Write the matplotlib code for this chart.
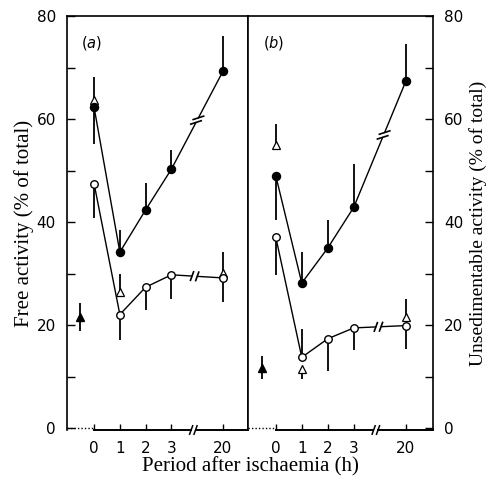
import numpy as np
import matplotlib
matplotlib.use('Agg')
import matplotlib.pyplot as plt

# Datos (horas tras la isquemia)
hours = [0, 1, 2, 3, 20]
tick_labels = ['0', '1', '2', '3', '20']
pos = [0, 1, 2, 3, 5]          # posicion en el eje (con corte entre 3 y 20)

# Panel (a): actividad libre
a_filled = [62.3, 34.2, 42.4, 50.3, 69.3]
a_filled_up = [0, 4.3, 5.3, 3.7, 6.9]
a_filled_dn = [7.1, 0, 0, 0, 0]
a_open = [47.5, 22.1, 27.4, 29.8, 29.2]
a_open_up = [0, 0, 0, 0, 5.0]
a_open_dn = [6.7, 5.0, 4.5, 4.7, 4.7]
a_tri_pos = [0, 1, 5]
a_tri = [63.7, 26.4, 30.2]
a_tri_up = [4.5, 3.6, 0]
a_tri_dn = [0, 0, 0]
a_ctrl, a_ctrl_err = 21.6, 2.7

# Panel (b): actividad no sedimentable
b_filled = [49.0, 28.2, 35.0, 42.9, 67.3]
b_filled_up = [0, 6.1, 5.5, 8.4, 7.2]
b_filled_dn = [8.5, 0, 0, 0, 0]
b_open = [37.1, 13.8, 17.4, 19.5, 19.95]
b_open_up = [0, 5.5, 0, 0, 0]
b_open_dn = [7.3, 0, 6.3, 4.2, 4.6]
b_tri_pos = [0, 1, 5]
b_tri = [55.0, 11.6, 21.6]
b_tri_up = [4.1, 0, 3.5]
b_tri_dn = [0, 2.1, 0]
b_ctrl, b_ctrl_err = 11.8, 2.3

fig = plt.figure(figsize=(4.92, 4.78), dpi=100)
axa = fig.add_axes([67/492, 48/478, 181/492, 414/478])
axb = fig.add_axes([248/492, 48/478, 185/492, 414/478])

LW = 1.0


def errbars(ax, x, y, up, dn):
    y = np.array(y, dtype=float)
    ax.vlines(x, y - np.array(dn), y + np.array(up), color='k', lw=1.3, zorder=2)


def px2data(ax, p):
    return ax.transData.inverted().transform(p)


def slashes(ax, c, u, ang, half=4.0, sep=2.2, lw=1.1):
    v = np.array([np.cos(np.radians(ang)), np.sin(np.radians(ang))])
    for s in (-1, 1):
        m = c + s * sep * u
        p0 = px2data(ax, m - half * v)
        p1 = px2data(ax, m + half * v)
        ax.plot([p0[0], p1[0]], [p0[1], p1[1]], color='k', lw=lw, zorder=4,
                clip_on=False)


def broken_line(ax, x, y, xb, ang, half):
    # linea con corte "//" entre los dos ultimos puntos
    ax.plot(x[:-1], y[:-1], color='k', lw=LW, zorder=3)
    p0 = ax.transData.transform((x[-2], y[-2]))
    p1 = ax.transData.transform((x[-1], y[-1]))
    d = p1 - p0
    u = d / np.hypot(*d)
    frac = (xb - x[-2]) / (x[-1] - x[-2])
    c = p0 + frac * d
    gap = 2.8
    q0 = px2data(ax, c - gap * u)
    q1 = px2data(ax, c + gap * u)
    ax.plot([x[-2], q0[0]], [y[-2], q0[1]], color='k', lw=LW, zorder=3)
    ax.plot([q1[0], x[-1]], [q1[1], y[-1]], color='k', lw=LW, zorder=3)
    slashes(ax, c, u, ang, half=half, sep=2.6, lw=1.2)


def panel(ax, filled, fu, fd, opn, ou, od, tpos, tri, tu, td, ctrl, cerr,
          cx, xlim, brk_f, brk_o, label):
    ax.set_xlim(*xlim)
    ax.set_ylim(-0.3, 80)
    errbars(ax, pos, filled, fu, fd)
    errbars(ax, pos, opn, ou, od)
    errbars(ax, tpos, tri, tu, td)
    errbars(ax, [cx], [ctrl], [cerr], [cerr])
    broken_line(ax, pos, filled, brk_f, 18, 5.5)
    broken_line(ax, pos, opn, brk_o, 70, 4.5)
    ax.plot(tpos, tri, ls='none', marker='^', ms=5.5, mfc='white', mec='k',
            mew=0.9, zorder=5)
    ax.plot(pos, opn, ls='none', marker='o', ms=5.4, mfc='white', mec='k',
            mew=1.0, zorder=6)
    ax.plot(pos, filled, ls='none', marker='o', ms=5.8, mfc='k', mec='k',
            zorder=6)
    ax.plot([cx], [ctrl], ls='none', marker='^', ms=5.5, mfc='k', mec='k',
            zorder=6)

    # eje x: punteado hasta 0, continuo con corte entre 3 y 20
    ax.spines['bottom'].set_visible(False)
    ax.plot([xlim[0], 0], [0, 0], color='k', lw=1.0, ls=(0, (1, 1.5)),
            clip_on=False, zorder=3)
    y0 = ax.get_ylim()[0]
    xb = 3.85
    c = ax.transData.transform((xb, y0))
    u = np.array([1.0, 0.0])
    q0 = px2data(ax, c - 2.5 * u)
    q1 = px2data(ax, c + 2.5 * u)
    ax.plot([0, q0[0]], [y0, y0], color='k', lw=1.4, clip_on=False)
    ax.plot([q1[0], xlim[1]], [y0, y0], color='k', lw=1.4, clip_on=False)
    slashes(ax, c, u, 70, half=4.5, sep=2.2)

    ax.set_xticks(pos)
    ax.set_xticklabels(tick_labels)
    ax.tick_params(axis='x', direction='in', length=4, width=1.0, pad=8,
                   labelsize=11)
    ax.text(0.08, 0.925, label, transform=ax.transAxes, fontsize=10.5,
            family='DejaVu Sans')
    for s in ax.spines.values():
        s.set_linewidth(1.2)


panel(axa, a_filled, a_filled_up, a_filled_dn, a_open, a_open_up, a_open_dn,
      a_tri_pos, a_tri, a_tri_up, a_tri_dn, a_ctrl, a_ctrl_err, -0.55,
      (-1.05, 5.97), 4.0, 3.9, r'($\mathit{a}$)')
panel(axb, b_filled, b_filled_up, b_filled_dn, b_open, b_open_up, b_open_dn,
      b_tri_pos, b_tri, b_tri_up, b_tri_dn, b_ctrl, b_ctrl_err, -0.52,
      (-1.07, 6.05), 4.15, 3.95, r'($\mathit{b}$)')

yt = [0, 20, 40, 60, 80]
axa.set_yticks(yt)
axa.set_yticks([10, 30, 50, 70], minor=True)
axa.tick_params(axis='y', which='both', direction='in', length=6, width=1.0,
                pad=8, labelsize=11, right=False)
axa.set_ylabel('Free activity (% of total)', family='Liberation Serif',
               fontsize=15, labelpad=2)

axb.yaxis.tick_right()
axb.yaxis.set_label_position('right')
axb.set_yticks(yt)
axb.set_yticks([10, 30, 50, 70], minor=True)
axb.tick_params(axis='y', which='both', direction='in', length=6, width=1.0,
                pad=8, labelsize=11, left=False)
axb.set_ylabel('Unsedimentable activity (% of total)',
               family='Liberation Serif', fontsize=14, labelpad=4)

fig.text(250/492, 1 - 467/478, 'Period after ischaemia (h)', ha='center',
         va='center', family='Liberation Serif', fontsize=15)

fig.savefig('out.png', dpi=100)
